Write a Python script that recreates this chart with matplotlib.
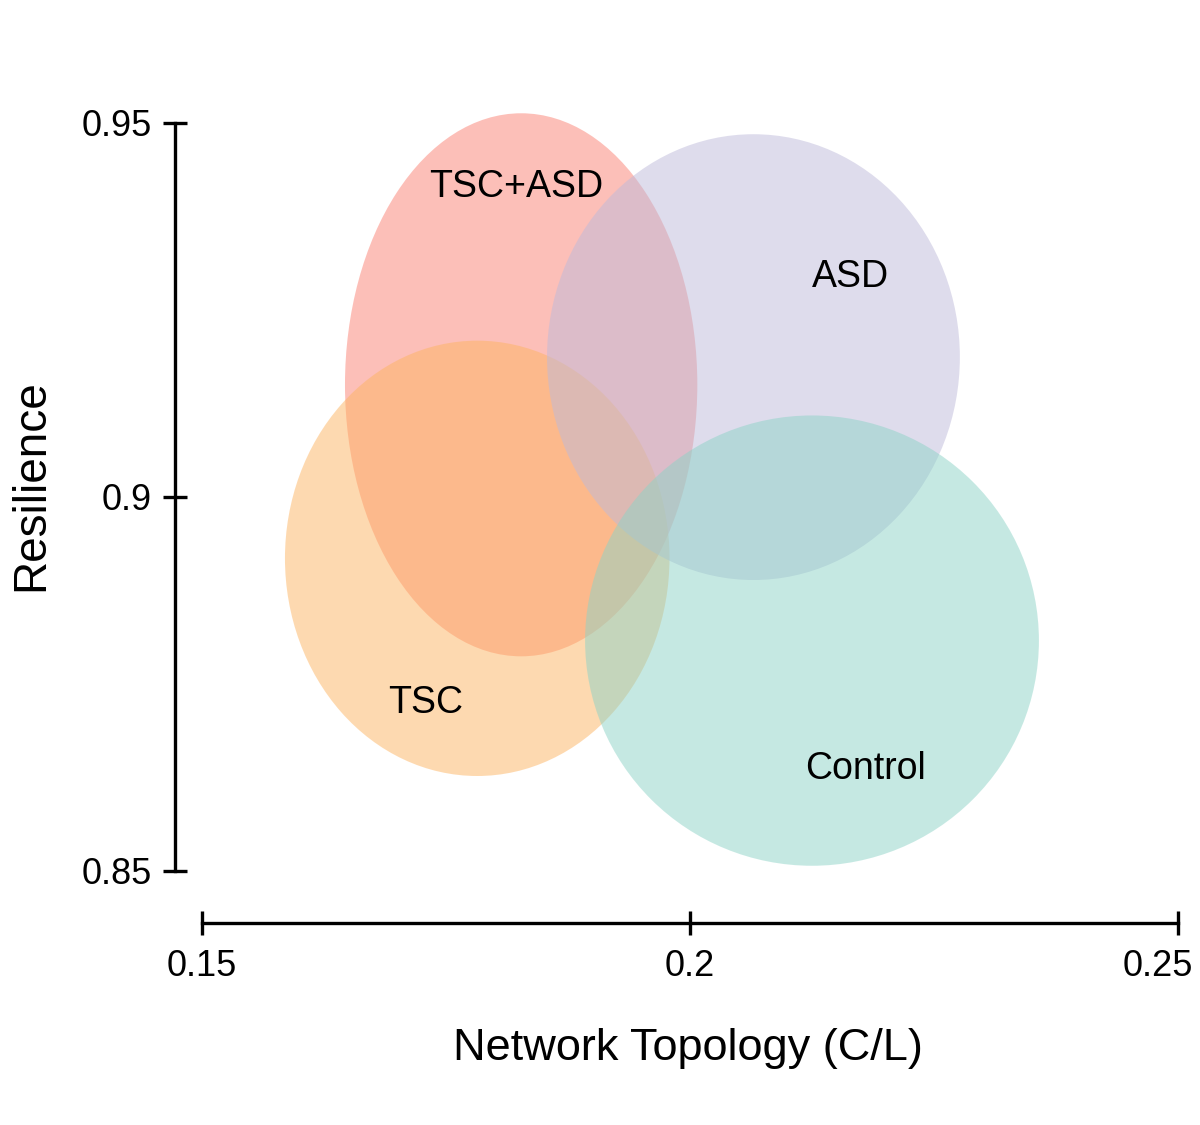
import matplotlib
matplotlib.use("Agg")
import matplotlib.pyplot as plt
import matplotlib.transforms as mtransforms
from matplotlib.patches import Ellipse

plt.rcParams['font.family'] = ['Liberation Sans', 'DejaVu Sans']

# === Group ellipses (centre, width, height in data units) ===
groups = ["TSC+ASD", "TSC", "ASD", "Control"]
center_x = [0.1827, 0.1782, 0.2065, 0.2125]
center_y = [0.9150, 0.8918, 0.9187, 0.8808]
widths = [0.0361, 0.0394, 0.0423, 0.0465]
heights = [0.0726, 0.0582, 0.0596, 0.0602]
colors = ["#fb8072", "#fdb462", "#bebada", "#8dd3c7"]

# label anchor points (data units)
label_x = [0.1822, 0.1729, 0.2164, 0.2180]
label_y = [0.9414, 0.8725, 0.9294, 0.8636]

xticks = [0.15, 0.2, 0.25]
xtick_labels = ["0.15", "0.2", "0.25"]
yticks = [0.85, 0.9, 0.95]
ytick_labels = ["0.85", "0.9", "0.95"]

fig = plt.figure(figsize=(12, 11.25), dpi=100)
ax = fig.add_axes([175 / 1200, 1 - 923 / 1125, 1003 / 1200, 823 / 1125])

for g, cx, cy, w, h, c in zip(groups, center_x, center_y, widths, heights, colors):
    ax.add_patch(Ellipse((cx, cy), w, h, facecolor=c, edgecolor="none",
                         alpha=0.5, clip_on=False))

for g, lx, ly in zip(groups, label_x, label_y):
    ax.text(lx, ly, g, ha="center", va="center", fontsize=27)

ax.set_xlim(0.15 - 27 / 9760, 0.25)
ax.set_ylim(0.95 - 800 / 7480, 0.95 + 23 / 7480)

for s in ["top", "right"]:
    ax.spines[s].set_visible(False)
for s in ["left", "bottom"]:
    ax.spines[s].set_linewidth(2.4)
ax.spines["bottom"].set_bounds(0.15, 0.25)
ax.spines["left"].set_bounds(0.85, 0.95)

ax.set_xticks(xticks)
ax.set_xticklabels(xtick_labels)
ax.set_yticks(yticks)
ax.set_yticklabels(ytick_labels)
ax.tick_params(direction="inout", length=17, width=2.4, labelsize=26)
ax.tick_params(axis="x", pad=10)
ax.tick_params(axis="y", pad=8)

# last x tick label is pulled inside the figure edge
last = ax.get_xticklabels()[-1]
last.set_horizontalalignment("right")
last.set_transform(last.get_transform() +
                   mtransforms.ScaledTranslation(0.15, 0, fig.dpi_scale_trans))

ax.set_xlabel("Network Topology (C/L)", fontsize=32.5)
ax.set_ylabel("Resilience", fontsize=33)
ax.xaxis.set_label_coords(0.511, -0.128)
ax.yaxis.set_label_coords(-0.121, 0.532)

fig.savefig("out.png", dpi=100)
